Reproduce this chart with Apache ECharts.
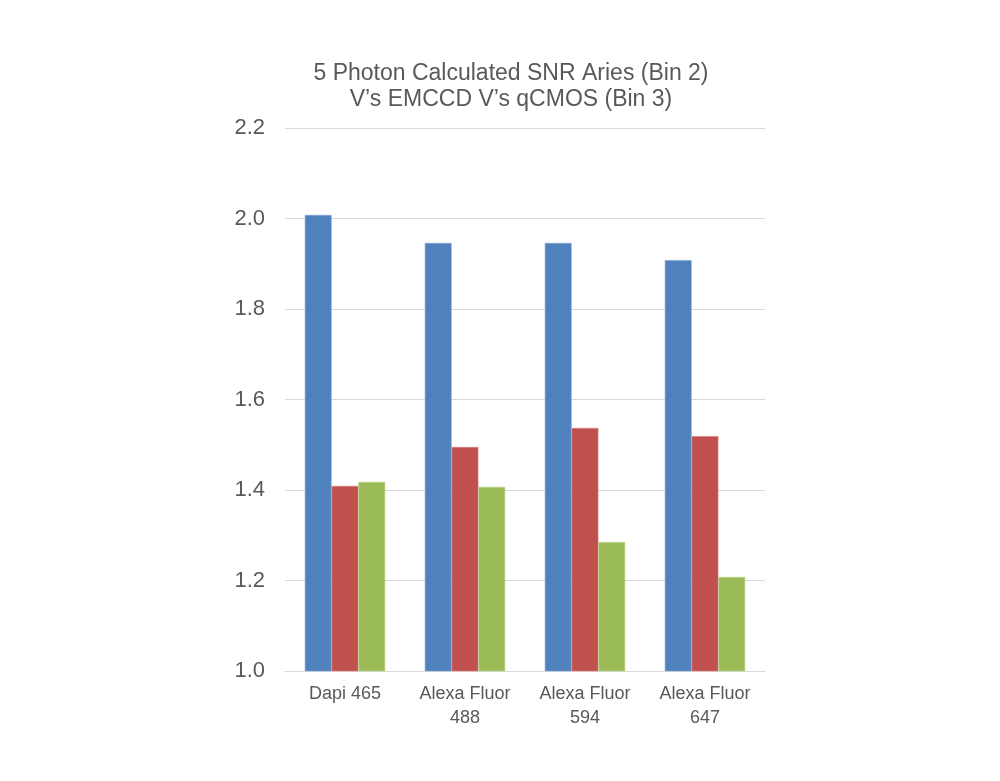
<!DOCTYPE html>
<html><head><meta charset="utf-8">
<script src="https://cdn.jsdelivr.net/npm/echarts@6/dist/echarts.min.js"></script>
<style>html,body{margin:0;padding:0;background:#fff}#c{width:1000px;height:781px}</style>
</head><body><div id="c"></div>
<script>
const categories = ['Dapi 465', 'Alexa Fluor\n488', 'Alexa Fluor\n594', 'Alexa Fluor\n647'];
const seriesA = [2.008, 1.946, 1.946, 1.908];
const seriesB = [1.409, 1.495, 1.537, 1.519];
const seriesC = [1.418, 1.407, 1.285, 1.208];
const yTicks = [1.0, 1.2, 1.4, 1.6, 1.8, 2.0, 2.2];

const chart = echarts.init(document.getElementById('c'));
const font = '"Liberation Sans", Arial, sans-serif';
function bar(name, data, color, border) {
  return { name, type: 'bar', data, barGap: '0%', barCategoryGap: '33%',
    itemStyle: { color, borderColor: border, borderWidth: 0.6 } };
}
chart.setOption({
  animation: false,
  title: { text: '5 Photon Calculated SNR Aries (Bin 2)\nV\u2019s EMCCD V\u2019s qCMOS (Bin 3)',
    left: 506, top: 56, textAlign: 'center',
    textStyle: { fontFamily: font, fontSize: 23, fontWeight: 'normal', color: '#595959', lineHeight: 26 } },
  grid: { left: 285, right: 235, top: 128, bottom: 110, containLabel: false },
  xAxis: { type: 'category', data: categories,
    axisLine: { lineStyle: { color: '#d9d9d9', width: 1 } },
    axisTick: { show: false },
    axisLabel: { fontFamily: font, fontSize: 18, color: '#595959', margin: 11, lineHeight: 24 } },
  yAxis: { type: 'value', min: 1.0, max: 2.2, interval: 0.2,
    axisLine: { show: false }, axisTick: { show: false },
    splitLine: { lineStyle: { color: '#d9d9d9', width: 1 } },
    axisLabel: { fontFamily: font, fontSize: 22, color: '#595959', margin: 20,
      formatter: v => { const t = yTicks.find(x => Math.abs(x - v) < 1e-6); return (t !== undefined ? t : v).toFixed(1); } } },
  series: [
    bar('A', seriesA, '#4F81BD', '#7fa6d6'),
    bar('B', seriesB, '#C0504D', '#d98380'),
    bar('C', seriesC, '#9BBB59', '#bcd68a')
  ]
});
</script></body></html>
